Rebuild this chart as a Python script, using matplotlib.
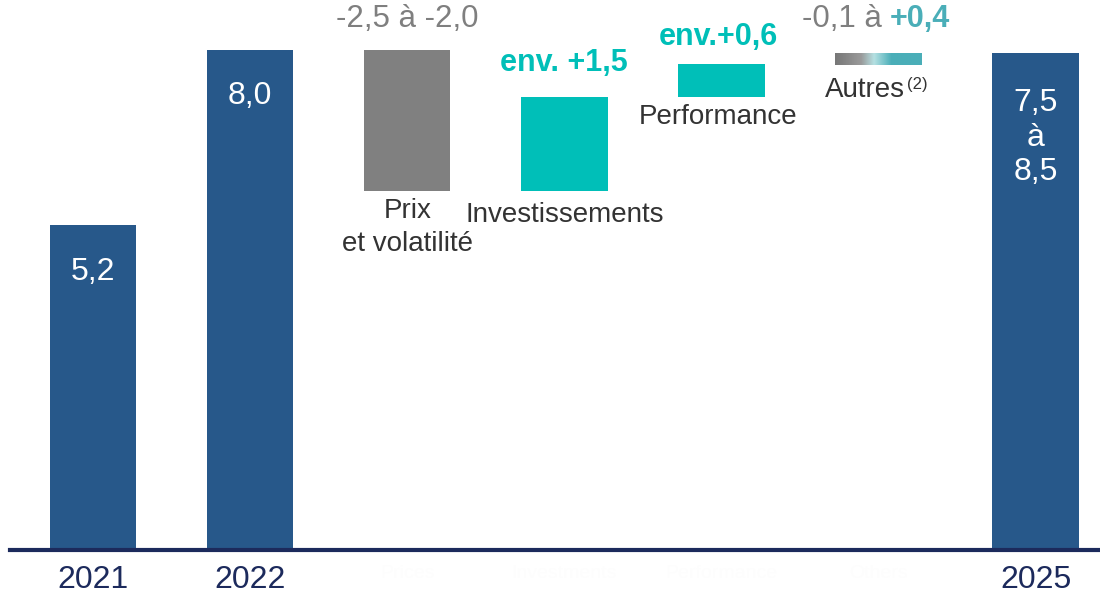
import matplotlib
matplotlib.use("Agg")
import matplotlib.pyplot as plt
import numpy as np
from matplotlib.colors import LinearSegmentedColormap

plt.rcParams['font.family'] = ['Liberation Sans', 'DejaVu Sans']

categories = ['2021', '2022', 'Prices', 'Investments', 'Performance', 'Others', '2025']
start_values = [5.2, 8.0]
steps = [-2.25, 1.5, 0.53, 0.2]
end_label = '7,5\nà\n8,5'
step_names = ['Prix\net volatilité', 'Investissements', 'Performance', 'Autres']

navy = '#27588a'
gray = '#808080'
teal = '#00bfb8'
teal2 = '#4aaeb8'
dark = '#1c2a5c'
txt_gray = '#7f7f7f'
txt = '#333333'

fig = plt.figure(figsize=(11, 6), dpi=100)
ax = fig.add_axes([0.009, 1 - 550 / 600, 0.991, 550 / 600])

x = np.arange(len(categories))
w = 0.55

# totals
ax.bar(x[0], start_values[0], width=w, color=navy)
ax.bar(x[1], start_values[1], width=w, color=navy)

level = start_values[1]
spans = []
for s in steps:
    spans.append(sorted((level, level + s)))
    level += s
end_value = level
ax.bar(x[6], end_value - 0.03, width=w, color=navy)

# bridge bars
lo, hi = spans[0]
ax.bar(x[2], hi - lo, bottom=lo, width=w, color=gray)
lo, hi = spans[1]
ax.bar(x[3], hi - lo, bottom=lo, width=w, color=teal)
lo, hi = spans[2]
ax.bar(x[4], hi - lo, bottom=lo, width=w, color=teal)
lo, hi = spans[3]
cmap = LinearSegmentedColormap.from_list('autres', [(0, '#777777'), (0.3, '#9a9a9a'), (0.45, '#b5e0e2'), (0.65, teal2), (1, teal2)])
grad = np.linspace(0, 1, 256).reshape(1, -1)
ax.imshow(grad, cmap=cmap, aspect='auto', extent=[x[5] - w / 2, x[5] + w / 2, lo - 0.02, hi - 0.03], zorder=2)

# values inside bars
ax.text(x[0], 4.44, '5,2', color='white', fontsize=23, ha='center', va='center')
ax.text(x[1], 7.27, '8,0', color='white', fontsize=23, ha='center', va='center')
ax.text(x[6], 6.6, end_label, color='white', fontsize=23, ha='center', va='center', linespacing=1.2)

# step annotations
ax.text(x[2], 8.5, '-2,5 à -2,0', color=txt_gray, fontsize=22.5, ha='center', va='center')
ax.text(x[2], 5.16, step_names[0], color=txt, fontsize=20, ha='center', va='center', linespacing=1.35)
ax.text(x[3], 7.8, 'env. +1,5', color=teal, fontsize=22, fontweight='bold', ha='center', va='center')
ax.text(x[3], 5.36, step_names[1], color=txt, fontsize=20, ha='center', va='center')
ax.text(x[4] - 0.02, 8.2, 'env.+0,6', color=teal, fontsize=22, fontweight='bold', ha='center', va='center')
ax.text(x[4] - 0.02, 6.93, step_names[2], color=txt, fontsize=20, ha='center', va='center')
ax.text(5.022, 8.5, '-0,1 à', color=txt_gray, fontsize=22.5, ha='right', va='center')
ax.text(5.073, 8.5, '+0,4', color=teal2, fontsize=22, fontweight='bold', ha='left', va='center')
ax.text(5.168, 7.36, step_names[3], color=txt, fontsize=20, ha='right', va='center')
ax.text(5.18, 7.45, '(2)', color=txt, fontsize=12, ha='left', va='center')

ax.set_xlim(-0.53, 6.41)
ax.set_ylim(0, 8.8)
ax.set_xticks(x)
ax.set_xticklabels(categories, fontsize=23)
for lbl, c in zip(ax.get_xticklabels(), categories):
    if c[0].isdigit():
        lbl.set_color(dark)
    else:
        lbl.set_color('#fdfdfd')
        lbl.set_fontsize(14)
ax.tick_params(axis='x', length=0, pad=11)
ax.set_yticks([])
for side in ['top', 'right', 'left']:
    ax.spines[side].set_visible(False)
ax.spines['bottom'].set_color(dark)
ax.spines['bottom'].set_linewidth(3)

fig.savefig('out.png', dpi=100)
